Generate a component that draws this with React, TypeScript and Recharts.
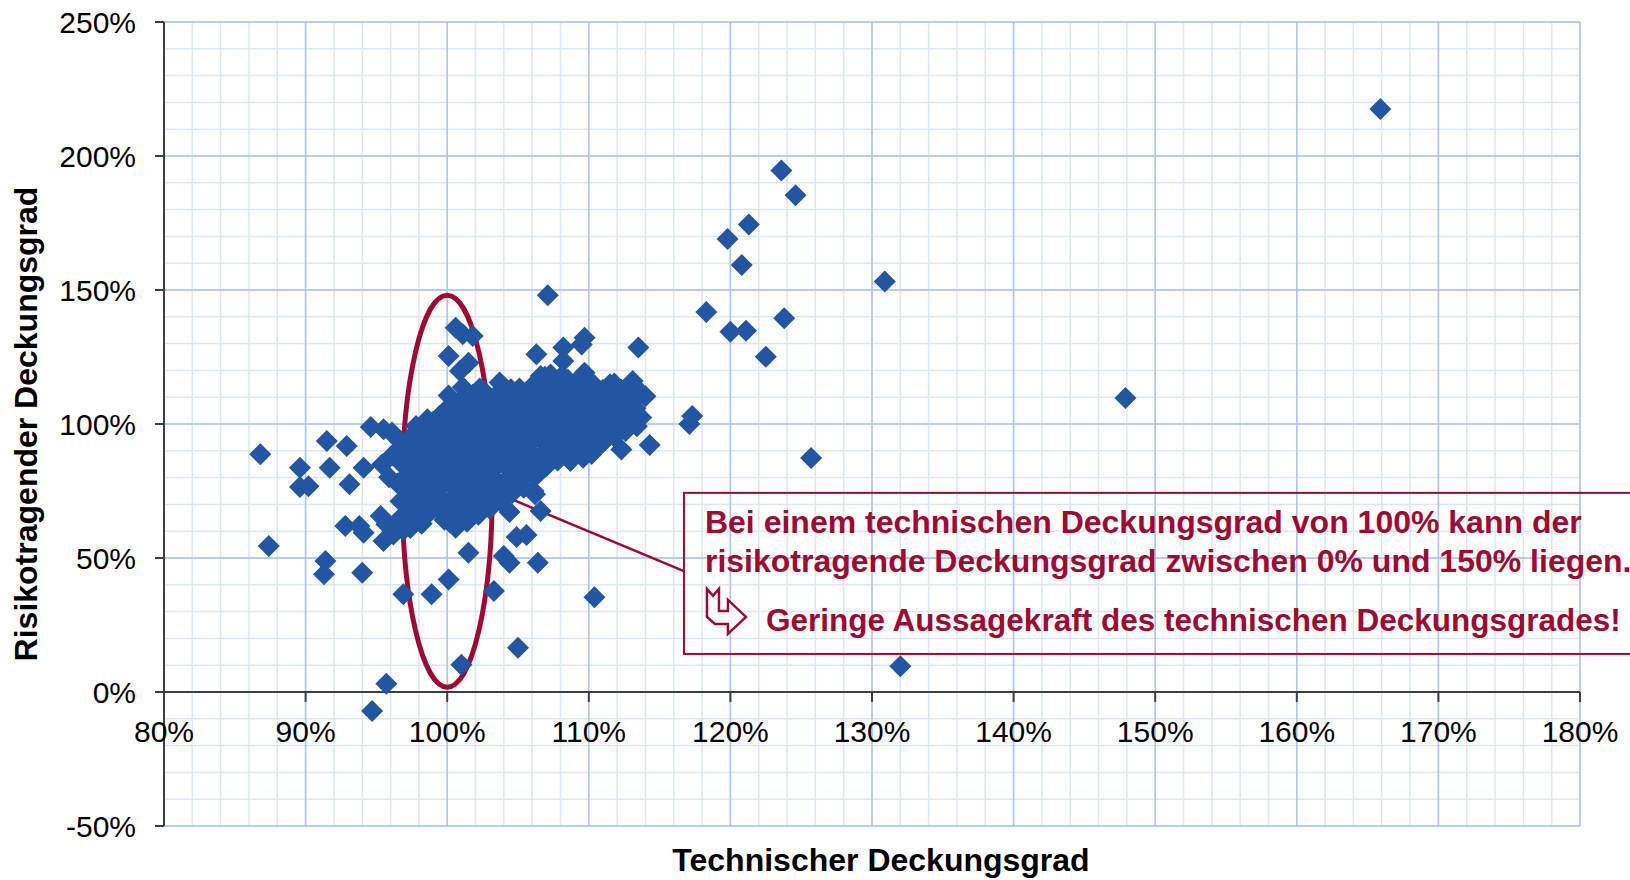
import { ScatterChart, Scatter, XAxis, YAxis, CartesianGrid, ReferenceLine, ReferenceArea, ReferenceDot } from 'recharts';

const BLUE = '#2356a2';
const CRIMSON = '#a00a32';
const AXIS = '#3f3f3f';
const GRID_MINOR = '#dbe6f7';
const GRID_MAJOR = '#a9c5ec';
const FONT = '"Liberation Sans", Arial, sans-serif';

// axis ticks (percent)
const xTicks = [80, 90, 100, 110, 120, 130, 140, 150, 160, 170, 180];
const yTicks = [-50, 0, 50, 100, 150, 200, 250];
const xMinor = Array.from({ length: 51 }, (_, i) => 80 + i * 2);
const yMinor = Array.from({ length: 31 }, (_, i) => -50 + i * 10);

const xTitle = 'Technischer Deckungsgrad';
const yTitle = 'Risikotragender Deckungsgrad';
const noteLines = [
  'Bei einem technischen Deckungsgrad von 100% kann der',
  'risikotragende Deckungsgrad zwischen 0% und 150% liegen.',
];
const noteConclusion = 'Geringe Aussagekraft des technischen Deckungsgrades!';

// [technischer DG %, risikotragender DG %]
const farPoints: [number, number][] = [
  [165.9, 217.5], [123.6, 194.6], [124.6, 185.4], [121.3, 174.4], [119.8, 169.0], [120.8, 159.3],
  [130.9, 153.2], [107.1, 148.0], [118.3, 141.8], [123.8, 139.5], [120.0, 134.4], [121.1, 134.8],
  [122.5, 125.1], [147.9, 109.7], [125.7, 87.3], [117.3, 103.0], [117.1, 100.0], [114.3, 92.2],
  [132.0, 9.6],
];

const leftPoints: [number, number][] = [
  [86.8, 88.7], [87.4, 54.5], [89.6, 83.7], [89.6, 76.5], [90.2, 76.8], [91.5, 93.7], [92.9, 91.8],
  [91.7, 83.7], [93.1, 77.5], [94.1, 83.7], [94.6, 98.9], [95.5, 98.0], [96.1, 96.8], [96.4, 94.9],
  [95.4, 84.9], [97.8, 99.3], [91.4, 48.9], [91.3, 43.9], [94.0, 44.5], [92.8, 61.9], [93.8, 61.9],
  [94.1, 59.4], [95.3, 65.7], [95.7, 62.6], [95.5, 56.3], [96.2, 58.8], [96.9, 60.4], [95.9, 80.1],
  [96.1, 88.2],
];

const lowerPoints: [number, number][] = [
  [101.0, 10.2], [105.0, 16.5], [95.7, 3.1], [94.7, -7.1], [110.4, 35.4], [103.3, 37.7], [100.1, 42.0],
  [98.9, 36.5], [96.9, 36.5], [101.5, 52.0], [104.4, 48.2], [104.0, 50.7], [106.4, 48.2], [104.9, 57.8],
  [105.6, 58.6], [104.4, 67.2], [106.6, 67.5], [106.2, 73.8],
];

const upperPoints: [number, number][] = [
  [100.1, 125.4], [100.6, 135.9], [101.1, 133.5], [101.8, 132.8], [100.9, 119.8], [101.5, 122.9],
  [106.3, 126.0], [108.2, 128.5], [108.2, 123.5], [109.7, 132.2], [109.5, 129.7], [113.5, 128.5],
  [106.6, 117.9], [107.3, 118.5], [103.7, 115.5], [104.5, 113.0], [109.4, 117.3], [109.7, 119.1],
  [111.5, 114.8], [113.1, 116.0], [114.0, 110.4], [113.7, 102.4], [112.3, 90.5], [112.0, 98.6],
  [109.6, 87.4], [108.7, 86.2], [106.6, 82.5], [106.1, 75.0],
];

const corePoints: [number, number][] = [
  [96.6, 64.5], [96.7, 71.2], [96.5, 77.8], [96.8, 85.1], [96.6, 90.6],
  [97.4, 61.2], [97.5, 68.3], [97.3, 74.9], [97.6, 82.4], [97.4, 88.7], [97.5, 95.6],
  [98.2, 62.8], [98.3, 69.6], [98.1, 77.3], [98.4, 83.9], [98.2, 90.8], [98.3, 97.7],
  [99.0, 72.6], [99.1, 79.8], [98.9, 86.9], [99.1, 93.5], [99.0, 100.8],
  [99.8, 64.3], [99.7, 71.5], [99.9, 78.2], [99.8, 85.4], [99.7, 91.9], [99.9, 98.6], [99.8, 104.7],
  [100.6, 61.3], [100.5, 67.4], [100.7, 74.1], [100.6, 80.7], [100.5, 88.2], [100.7, 94.8], [100.6, 101.9], [100.5, 107.6],
  [101.4, 63.5], [101.3, 70.2], [101.5, 76.6], [101.4, 84.3], [101.3, 90.7], [101.5, 97.8], [101.4, 104.6], [101.3, 110.8],
  [102.2, 66.1], [102.3, 72.8], [102.1, 80.4], [102.2, 86.6], [102.3, 93.9], [102.1, 100.7], [102.2, 107.5], [102.3, 113.2],
  [103.0, 68.4], [103.1, 75.3], [102.9, 81.8], [103.0, 89.2], [103.1, 95.7], [102.9, 102.8], [103.0, 109.6],
  [103.8, 71.2], [103.9, 77.7], [103.7, 85.3], [103.8, 91.6], [103.9, 98.9], [103.7, 105.8], [103.8, 112.6],
  [104.6, 74.3], [104.5, 80.8], [104.7, 87.9], [104.6, 94.6], [104.5, 101.7], [104.7, 108.8],
  [105.4, 76.2], [105.5, 83.4], [105.3, 90.1], [105.4, 96.8], [105.5, 103.9], [105.3, 110.7],
  [106.2, 80.3], [106.3, 86.7], [106.1, 93.8], [106.2, 100.6], [106.3, 107.7], [106.1, 114.6],
  [107.0, 84.2], [107.1, 90.8], [106.9, 97.9], [107.0, 104.7], [107.1, 111.8], [106.9, 117.6],
  [107.8, 86.4], [107.7, 92.9], [107.9, 99.8], [107.8, 106.9], [107.7, 113.6],
  [108.6, 89.3], [108.5, 95.7], [108.7, 102.8], [108.6, 109.7], [108.5, 116.6],
  [109.4, 91.2], [109.5, 97.9], [109.3, 104.8], [109.4, 111.6],
  [110.2, 88.8], [110.3, 95.3], [110.1, 101.8], [110.2, 108.7], [110.3, 114.9],
  [111.0, 93.1], [111.1, 99.7], [110.9, 106.6], [111.0, 112.8],
  [111.8, 95.2], [111.9, 101.9], [111.7, 108.6], [111.8, 115.1],
  [112.6, 97.4], [112.7, 103.8], [112.5, 110.9],
  [113.4, 99.2], [113.3, 105.9], [113.5, 112.7],
];

// second, staggered layer of the dense centre of the cloud
const coreFillPoints: [number, number][] = [
  [97.0, 65.3], [97.1, 72.4], [96.9, 79.6], [97.0, 86.2], [97.1, 92.8],
  [97.8, 65.8], [97.9, 73.1], [97.7, 80.2], [97.8, 86.9], [97.9, 94.1],
  [98.6, 66.2], [98.5, 74.4], [98.7, 81.1], [98.6, 88.3], [98.5, 95.2], [98.6, 101.8],
  [99.4, 68.1], [99.3, 76.2], [99.5, 83.4], [99.4, 89.7], [99.3, 96.8], [99.5, 103.2],
  [100.2, 63.2], [100.1, 70.3], [100.3, 77.4], [100.2, 84.1], [100.1, 91.3], [100.3, 98.2], [100.2, 104.9], [100.1, 110.6],
  [101.0, 65.4], [101.1, 72.9], [100.9, 80.2], [101.0, 87.4], [101.1, 93.8], [100.9, 101.1], [101.0, 107.8], [101.1, 113.7],
  [101.8, 68.2], [101.7, 75.1], [101.9, 82.8], [101.8, 89.6], [101.7, 96.9], [101.9, 103.8], [101.8, 110.9],
  [102.6, 70.4], [102.7, 77.2], [102.5, 84.3], [102.6, 91.1], [102.7, 98.4], [102.5, 105.2], [102.6, 112.1],
  [103.4, 72.3], [103.3, 79.8], [103.5, 86.9], [103.4, 93.7], [103.3, 100.8], [103.5, 108.1],
  [104.2, 76.1], [104.3, 83.2], [104.1, 89.8], [104.2, 97.1], [104.3, 103.9], [104.1, 110.9],
  [105.0, 79.3], [104.9, 86.1], [105.1, 93.2], [105.0, 99.8], [104.9, 106.9], [105.1, 113.2],
  [105.8, 82.1], [105.9, 89.2], [105.7, 96.1], [105.8, 103.2], [105.9, 109.8],
  [106.6, 88.1], [106.5, 94.9], [106.7, 101.8], [106.6, 108.9], [106.5, 115.2],
  [107.4, 88.3], [107.5, 95.8], [107.3, 102.9], [107.4, 109.7], [107.5, 115.8],
  [108.2, 90.2], [108.1, 97.8], [108.3, 104.9], [108.2, 111.7], [108.1, 117.9],
  [109.0, 92.8], [109.1, 99.9], [108.9, 106.8], [109.0, 113.9],
  [109.8, 93.1], [109.7, 100.2], [109.9, 106.9], [109.8, 113.8],
  [110.6, 91.2], [110.7, 97.8], [110.5, 104.2], [110.6, 110.9],
  [111.4, 96.8], [111.3, 103.9], [111.5, 110.2],
  [112.2, 99.8], [112.1, 106.9], [112.3, 112.8],
  [113.0, 101.9], [113.1, 108.8],
];

// annotation: ellipse around 100% and callout box
const ellipseX: [number, number] = [96.82, 103.18];
const ellipseY: [number, number] = [1.8, 148];
const connector = [{ x: 103.2, y: 74.9 }, { x: 116.72, y: 45.1 }];
const boxX: [number, number] = [116.72, 185];
const boxY: [number, number] = [14.2, 74.3];

const points = [...farPoints, ...leftPoints, ...lowerPoints, ...upperPoints, ...corePoints, ...coreFillPoints].map(
  ([tech, risk]) => ({ tech, risk })
);

function Diamond(props: any) {
  const { cx, cy } = props;
  if (cx == null || cy == null) return null;
  const r = 11;
  return <polygon points={`${cx},${cy - r} ${cx + r},${cy} ${cx},${cy + r} ${cx - r},${cy}`} fill={BLUE} />;
}

function EllipseShape(props: any) {
  const { x, y, width, height } = props;
  return (
    <ellipse cx={x + width / 2} cy={y + height / 2} rx={width / 2} ry={height / 2}
      fill="none" stroke={CRIMSON} strokeWidth={5} />
  );
}

function NoteBox(props: any) {
  const { x, y, width, height } = props;
  const ax = x + 23;
  const ay = y + 96;
  const arrow = [
    [0, 0], [6, 7], [12, 0], [12, 22], [21, 22], [21, 11], [39, 28], [21, 45], [21, 35], [8, 35], [0, 28],
  ].map(([px, py]) => `${ax + px},${ay + py}`).join(' ');
  return (
    <g>
      <rect x={x} y={y} width={width} height={height} fill="none" stroke={CRIMSON} strokeWidth={2} />
      {noteLines.map((t, i) => (
        <text key={i} x={x + 21} y={y + 40 + i * 39} fill={CRIMSON} fontSize={32} fontWeight="bold" fontFamily={FONT}>
          {t}
        </text>
      ))}
      <polygon points={arrow} fill="#fff" stroke={CRIMSON} strokeWidth={2.5} strokeLinejoin="miter" />
      <text x={x + 82} y={y + 138} fill={CRIMSON} fontSize={31.5} fontWeight="bold" fontFamily={FONT}>
        {noteConclusion}
      </text>
    </g>
  );
}

export default function App() {
  return (
    <div style={{ position: 'absolute', left: 0, top: 0, width: 1630, height: 880, background: '#fff' }}>
      <ScatterChart width={1630} height={880} margin={{ top: 22, right: 50, bottom: 0, left: 0 }}>
        <CartesianGrid stroke={GRID_MINOR} strokeWidth={1.5} verticalValues={xMinor} horizontalValues={yMinor} />
        <CartesianGrid stroke={GRID_MAJOR} strokeWidth={1.5} verticalValues={xTicks} horizontalValues={yTicks} />
        <XAxis
          type="number"
          dataKey="tech"
          domain={[80, 180]}
          ticks={xTicks}
          interval={0}
          allowDataOverflow
          height={54}
          axisLine={false}
          tickLine={false}
          tick={() => <g />}
          label={{
            content: (p: any) => {
              const vb = p.viewBox || { x: 164, y: 826, width: 1416, height: 54 };
              return (
                <text x={vb.x + vb.width / 2 + 9} y={vb.y + 45} textAnchor="middle" fontSize={32} fontWeight="bold" fontFamily={FONT} fill="#000">
                  {xTitle}
                </text>
              );
            },
          }}
        />
        <YAxis
          type="number"
          dataKey="risk"
          domain={[-50, 250]}
          ticks={yTicks}
          interval={0}
          allowDataOverflow
          width={164}
          tickSize={9}
          tickMargin={19}
          tickFormatter={(v) => `${v}%`}
          tick={{ fill: '#000', fontSize: 30, fontFamily: FONT }}
          axisLine={{ stroke: AXIS, strokeWidth: 2 }}
          tickLine={{ stroke: AXIS, strokeWidth: 2 }}
          label={{
            content: (p: any) => {
              const vb = p.viewBox || { x: 0, y: 22, width: 164, height: 804 };
              const cx = vb.x + 37;
              const cy = vb.y + vb.height / 2;
              return (
                <text x={cx} y={cy} transform={`rotate(-90 ${cx} ${cy})`} textAnchor="middle" fontSize={32} fontWeight="bold" fontFamily={FONT} fill="#000">
                  {yTitle}
                </text>
              );
            },
          }}
        />
        <ReferenceLine y={0} stroke={AXIS} strokeWidth={2} />
        {xTicks.slice(1).map((v) => (
          <ReferenceLine key={`t${v}`} segment={[{ x: v, y: 0 }, { x: v, y: -3.7 }]} stroke={AXIS} strokeWidth={2} />
        ))}
        {xTicks.map((v) => (
          <ReferenceDot
            key={`l${v}`}
            x={v}
            y={0}
            r={1}
            fill="none"
            stroke="none"
            ifOverflow="visible"
            label={{ value: `${v}%`, position: 'bottom', offset: 28, fill: '#000', fontSize: 30, fontFamily: FONT }}
          />
        ))}
        <Scatter data={points} shape={Diamond} isAnimationActive={false} />
        <ReferenceArea x1={ellipseX[0]} x2={ellipseX[1]} y1={ellipseY[0]} y2={ellipseY[1]} shape={EllipseShape} />
        <ReferenceLine segment={connector} stroke={CRIMSON} strokeWidth={2.5} />
        <ReferenceArea x1={boxX[0]} x2={boxX[1]} y1={boxY[0]} y2={boxY[1]} ifOverflow="visible" shape={NoteBox} />
      </ScatterChart>
    </div>
  );
}
